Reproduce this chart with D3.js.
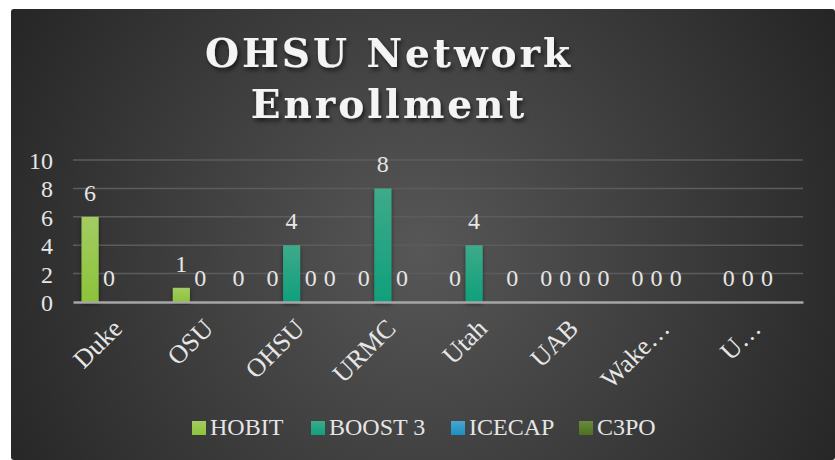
<!doctype html>
<meta charset="utf-8">
<title>OHSU Network Enrollment</title>
<script src="https://cdn.jsdelivr.net/npm/d3@7/dist/d3.min.js"></script>
<style>
  body { margin: 0; background: #fff; }
  text { font-family: "Liberation Serif", "Times New Roman", serif; }
</style>
<body>
<script>
var sites = ['Duke', 'OSU', 'OHSU', 'URMC', 'Utah', 'UAB', 'Wake…', 'U…'];
var seriesNames = ['HOBIT', 'BOOST 3', 'ICECAP', 'C3PO'];
// null = blank cell (no bar, no label)
var hobit  = [6, 1, 0, 0, 0, 0, 0, 0];
var boost3 = [0, 0, 4, 8, 4, 0, 0, 0];
var icecap = [null, null, 0, 0, null, 0, 0, 0];
var c3po   = [null, 0, 0, null, 0, 0, null, null];
var yTicks = [0, 2, 4, 6, 8, 10];

var colors = ['#8cc33a', '#0fa07c', '#1a8fc2', '#4e7020'];
var tops   = ['#a3cc62', '#3eaa8a', '#4aa6cf', '#6a8a3e'];

var width = 835, height = 460;
var plotL = 73, plotR = 803, plotT = 160, plotB = 302;

var values = [hobit, boost3, icecap, c3po];

var svg = d3.select('body').append('svg')
  .attr('width', width)
  .attr('height', height)
  .style('display', 'block');

var defs = svg.append('defs');
var bg = defs.append('radialGradient').attr('id', 'bg')
  .attr('gradientUnits', 'userSpaceOnUse')
  .attr('cx', 420).attr('cy', 250).attr('r', 470);
bg.append('stop').attr('offset', 0).attr('stop-color', '#575757');
bg.append('stop').attr('offset', 1).attr('stop-color', '#262626');

colors.forEach(function(c, i) {
  var g = defs.append('linearGradient').attr('id', 'g' + i)
    .attr('x1', 0).attr('y1', 0).attr('x2', 0).attr('y2', 1);
  g.append('stop').attr('offset', 0).attr('stop-color', tops[i]);
  g.append('stop').attr('offset', 1).attr('stop-color', c);
});

var shadow = defs.append('filter').attr('id', 'shadow')
  .attr('x', -0.2).attr('y', -0.2).attr('width', 1.4).attr('height', 1.5);
shadow.append('feDropShadow').attr('dx', 2).attr('dy', 3)
  .attr('stdDeviation', 2).attr('flood-color', '#000').attr('flood-opacity', 0.6);

var barShadow = defs.append('filter').attr('id', 'barShadow')
  .attr('x', -0.5).attr('y', -0.1).attr('width', 2).attr('height', 1.3);
barShadow.append('feDropShadow').attr('dx', 0).attr('dy', 2)
  .attr('stdDeviation', 2).attr('flood-color', '#000').attr('flood-opacity', 0.5);

svg.append('rect')
  .attr('x', 11).attr('y', 9)
  .attr('width', width - 11).attr('height', height - 9)
  .attr('rx', 3)
  .attr('fill', 'url(#bg)');

// title
var title = svg.append('text')
  .attr('text-anchor', 'middle')
  .attr('fill', '#f4f4f4')
  .style('font-family', '"DejaVu Serif", serif')
  .style('font-weight', 'bold')
  .style('font-size', '39px')
  .attr('filter', 'url(#shadow)');
var t1 = title.append('tspan').attr('x', 389).attr('y', 67).text('OHSU Network');
title.append('tspan').attr('x', 389).attr('y', 118).text('Enrollment');
// stretch first line to about 365px like the original
var spacing = Math.max(0, Math.min(4, (365 - t1.node().getComputedTextLength()) / 11));
title.style('letter-spacing', spacing + 'px');

var x0 = d3.scaleBand().domain(sites).range([plotL, plotR]);
var x1 = d3.scaleBand().domain(seriesNames).range([0, x0.bandwidth()])
  .paddingInner(0.1).paddingOuter(0.45);
var y = d3.scaleLinear().domain([0, 10]).range([plotB, plotT]);

// gridlines
svg.append('g').selectAll('line')
  .data(yTicks.slice(1))
  .enter().append('line')
  .attr('x1', plotL).attr('x2', plotR)
  .attr('y1', function(d) { return y(d); })
  .attr('y2', function(d) { return y(d); })
  .attr('stroke', '#5c5c5c').attr('stroke-width', 1.5);

// y axis
var yAxis = svg.append('g')
  .attr('transform', 'translate(' + (plotL - 20) + ',0)')
  .call(d3.axisLeft(y).tickValues(yTicks).tickSize(0).tickPadding(0));
yAxis.select('.domain').remove();
yAxis.selectAll('text')
  .attr('fill', '#e6e6e6')
  .attr('font-size', 24)
  .attr('dy', '0.35em');

var cells = [];
sites.forEach(function(s, i) {
  seriesNames.forEach(function(n, j) {
    if (values[j][i] !== null) cells.push({ site: s, series: n, j: j, v: values[j][i] });
  });
});

// bars
svg.append('g').selectAll('rect')
  .data(cells.filter(function(d) { return d.v > 0; }))
  .enter().append('rect')
  .attr('x', function(d) { return x0(d.site) + x1(d.series); })
  .attr('width', x1.bandwidth())
  .attr('y', function(d) { return y(d.v); })
  .attr('height', function(d) { return y(0) - y(d.v); })
  .attr('fill', function(d) { return 'url(#g' + d.j + ')'; })
  .attr('filter', 'url(#barShadow)');

// axis line
var xAxis = svg.append('g')
  .attr('transform', 'translate(0,' + plotB + ')')
  .call(d3.axisBottom(x0).tickSize(0).tickPadding(0));
xAxis.select('.domain').attr('stroke', '#a6a6a6').attr('stroke-width', 2.5);
xAxis.selectAll('.tick text')
  .attr('fill', '#e6e6e6')
  .attr('font-size', 26)
  .attr('text-anchor', 'end')
  .attr('dy', 0)
  .attr('transform', 'translate(5,28) rotate(-45)');

// data labels
svg.append('g').selectAll('text')
  .data(cells)
  .enter().append('text')
  .attr('x', function(d) { return x0(d.site) + x1(d.series) + x1.bandwidth() / 2; })
  .attr('y', function(d) { return y(d.v) - 16; })
  .attr('text-anchor', 'middle')
  .attr('fill', '#e6e6e6')
  .attr('font-size', 24)
  .text(function(d) { return d.v; });

// legend
var legendX = [192, 311, 451, 579];
var legend = svg.append('g').selectAll('g')
  .data(seriesNames)
  .enter().append('g')
  .attr('transform', function(d, i) { return 'translate(' + legendX[i] + ',421)'; });
legend.append('rect')
  .attr('width', 14).attr('height', 14)
  .attr('fill', function(d, i) { return 'url(#g' + i + ')'; });
legend.append('text')
  .attr('x', 18).attr('y', 14)
  .attr('fill', '#e6e6e6')
  .attr('font-size', 24)
  .text(function(d) { return d; });
</script>
</body>
